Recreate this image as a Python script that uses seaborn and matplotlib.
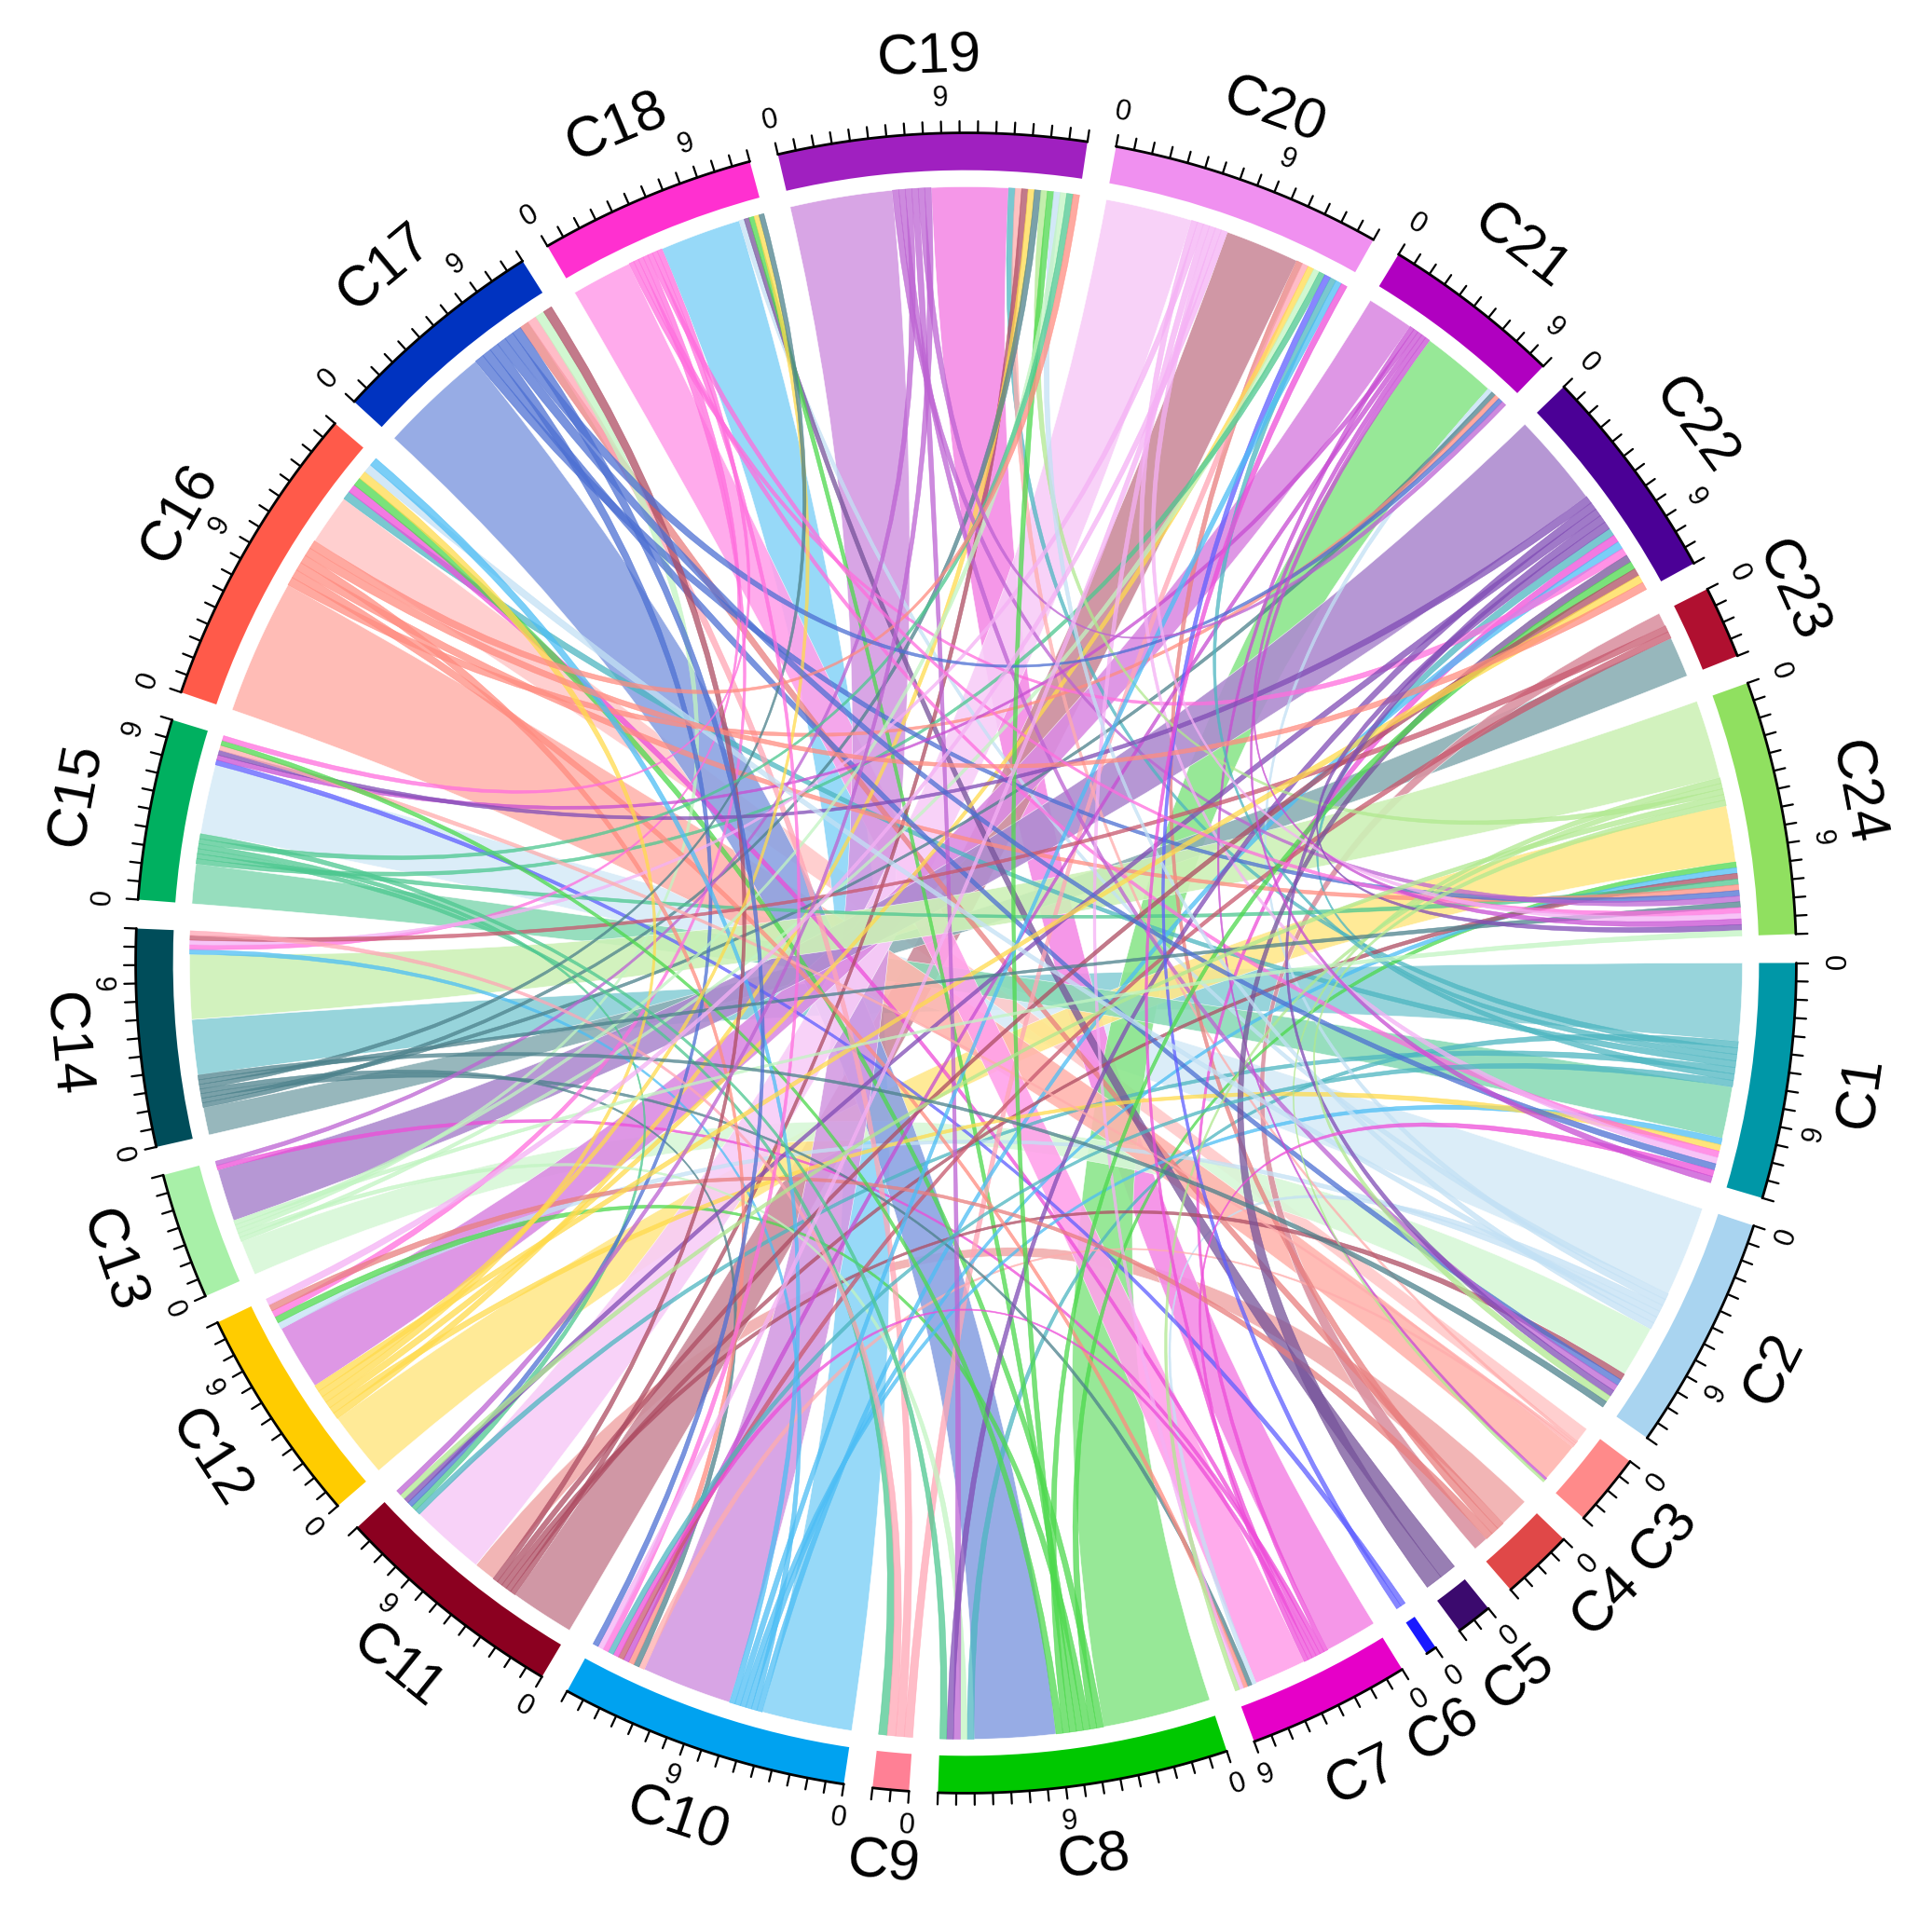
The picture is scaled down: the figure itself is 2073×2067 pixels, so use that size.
import numpy as np
import matplotlib
matplotlib.use("Agg")
import matplotlib.pyplot as plt
import seaborn as sns
from matplotlib.path import Path
from matplotlib.patches import PathPatch, Wedge
from matplotlib.colors import to_rgb

sns.set_theme(style="white")
plt.rcParams['font.family'] = ['Liberation Sans', 'DejaVu Sans']
plt.rcParams['text.color'] = 'black'

names = [f"C{i}" for i in range(1, 25)]
sizes = [13, 13, 4, 4, 2, 0.6, 9, 16, 2, 16, 13, 12, 7, 12, 10, 17, 12, 12, 17, 15, 10, 12, 4, 14]
colors = ["#0097A7", "#A9D4F0", "#FF8A8A", "#E04848", "#3B0A6E", "#1A1AFF", "#E600C8", "#00C800",
          "#FF8095", "#00A2F0", "#8B0020", "#FFCC00", "#A8F0A8", "#004D5A", "#00B060", "#FF5A4A",
          "#0033C0", "#FF30D0", "#A020C0", "#F090F0", "#B000C0", "#4B0096", "#B01030", "#90E060"]

big_links = [(1, 14, 6), (2, 15, 7), (3, 16, 3), (4, 11, 2), (7, 19, 6), (8, 21, 8), (10, 18, 8),
             (11, 20, 6), (12, 24, 5), (13, 2, 4), (14, 23, 3), (15, 1, 4), (16, 3, 8), (17, 8, 6),
             (18, 7, 6), (19, 10, 8), (20, 11, 7), (21, 12, 5), (22, 13, 6), (23, 4, 1), (24, 14, 7)]
thin_links = [(1, 8), (1, 19), (1, 22), (1, 16), (1, 11), (2, 18), (2, 21), (2, 7), (2, 12), (3, 19),
              (3, 10), (4, 17), (4, 20), (5, 18), (6, 15), (7, 22), (7, 13), (7, 16), (8, 16), (8, 24),
              (8, 12), (8, 18), (9, 20), (9, 17), (10, 22), (10, 14), (10, 24), (10, 1), (11, 19),
              (11, 24), (11, 2), (12, 19), (12, 1), (12, 20), (13, 20), (13, 8), (13, 17), (14, 19),
              (14, 21), (14, 7), (14, 10), (15, 20), (15, 24), (15, 9), (15, 11), (16, 21), (16, 7),
              (16, 24), (16, 10), (17, 24), (17, 2), (17, 11), (18, 22), (18, 1), (18, 12), (18, 14),
              (19, 24), (19, 2), (19, 13), (19, 8), (20, 1), (20, 14), (20, 7), (21, 3), (21, 15),
              (21, 10), (22, 15), (22, 8), (22, 11), (23, 14), (23, 10), (24, 3), (24, 7), (24, 19),
              (3, 15), (4, 12), (7, 10), (8, 19), (9, 14), (12, 16), (5, 22), (6, 20),
              (1, 20), (1, 10), (2, 16), (2, 19), (8, 22), (8, 15), (10, 20), (10, 16), (11, 22),
              (11, 17), (12, 18), (12, 22), (13, 19), (14, 18), (14, 24), (15, 19), (16, 22), (16, 19),
              (17, 1), (17, 21), (18, 24), (18, 10), (19, 21), (20, 24), (20, 10), (21, 24), (22, 2),
              (22, 24), (24, 11), (24, 2), (7, 20), (7, 1), (13, 24), (14, 2), (15, 8), (17, 10),
              (18, 15), (19, 11), (20, 12), (21, 1)]
thin_w = 0.5
label_shift = {4: -1.6, 5: 0.0, 6: 2.2}

gap = 2.0
n = len(sizes)
dpu = (360 - n * gap) / sum(sizes)
starts = []
a = 0.0
for s in sizes:
    starts.append(a)
    a += s * dpu + gap


def pt(r, th):
    t = np.deg2rad(-th)
    return np.array([r * np.cos(t), r * np.sin(t)])


def lighten(c, f):
    r = np.array(to_rgb(c))
    return tuple(r + (1 - r) * f)


fig = plt.figure(figsize=(2073 / 200, 2067 / 200), dpi=200)
ax = fig.add_axes([0, 0, 1, 1])
ax.set_xlim(-1.16, 1.16)
ax.set_ylim(-1.16, 1.16)
ax.set_aspect("equal")
ax.axis("off")

all_links = [(s, d, w, True) for s, d, w in big_links] + [(s, d, thin_w, False) for s, d in thin_links]
ends = {i: [] for i in range(1, n + 1)}
for k, (s, d, w, b) in enumerate(all_links):
    ends[s].append((k, w))
for k, (s, d, w, b) in enumerate(all_links):
    ends[d].append((k, w))
pos = {}
for i in range(1, n + 1):
    tot = sum(w for _, w in ends[i])
    span = sizes[i - 1] * dpu
    cur = starts[i - 1]
    for k, w in ends[i]:
        ang = w / tot * span
        pos.setdefault(k, []).append((cur, cur + ang))
        cur += ang

R = 0.935
for k, (s, d, w, b) in enumerate(all_links):
    (a1, a2), (b1, b2) = pos[k]
    verts, codes = [], []
    for t in np.linspace(a1, a2, 12):
        verts.append(pt(R, t)); codes.append(Path.LINETO)
    codes[0] = Path.MOVETO
    verts += [(0, 0), pt(R, b1)]; codes += [Path.CURVE3, Path.CURVE3]
    for t in np.linspace(b1, b2, 12)[1:]:
        verts.append(pt(R, t)); codes.append(Path.LINETO)
    verts += [(0, 0), pt(R, a1)]; codes += [Path.CURVE3, Path.CURVE3]
    col = lighten(colors[s - 1], 0.55 if b else 0.3)
    ax.add_patch(PathPatch(Path(verts, codes), facecolor=col, edgecolor="white" if b else col,
                           lw=0.2, alpha=0.9 if b else 0.75, zorder=2 if b else 3))


def rot_for(th):
    phi = (-th) % 360
    if phi > 180:
        phi -= 360
    return phi - 90 if phi >= 0 else phi + 90


for i in range(n):
    st = starts[i]
    en = st + sizes[i] * dpu
    ax.add_patch(Wedge((0, 0), 1.0, -en, -st, width=0.045, facecolor=colors[i], edgecolor="none", zorder=4))
    arc = np.array([pt(1.0, t) for t in np.linspace(st, en, 40)])
    ax.plot(arc[:, 0], arc[:, 1], color="black", lw=1.0, zorder=5)
    for u in range(int(np.floor(sizes[i])) + 1):
        th = st + u * dpu
        p1, p2 = pt(1.0, th), pt(1.014, th)
        ax.plot([p1[0], p2[0]], [p1[1], p2[1]], color="black", lw=0.8, zorder=5)
        if u in (0, 9):
            p = pt(1.042, th)
            ax.text(p[0], p[1], str(u), fontsize=11, ha="center", va="center",
                    rotation=rot_for(th), rotation_mode="anchor")
    mid = (st + en) / 2 + label_shift.get(i + 1, 0)
    p = pt(1.09, mid)
    ax.text(p[0], p[1], names[i], fontsize=22, ha="center", va="center",
            rotation=rot_for(mid), rotation_mode="anchor")

fig.savefig("out.png", dpi=200, facecolor="white")
